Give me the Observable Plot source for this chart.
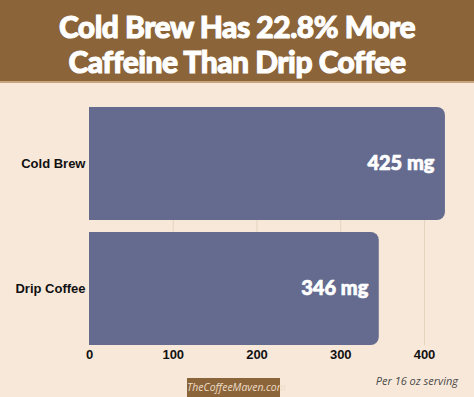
<!DOCTYPE html>
<html>
<head>
<meta charset="utf-8">
<script src="https://cdn.jsdelivr.net/npm/d3@7"></script>
<script src="https://cdn.jsdelivr.net/npm/@observablehq/plot@0.6"></script>
<style>
  html, body { margin: 0; padding: 0; background: #f8e8d9; }
  #wrap { position: relative; width: 474px; height: 397px; background: #f8e8d9; overflow: hidden; }
  #title { position: absolute; left: 0; top: 0; width: 474px; height: 83px; background: #8b6439;
           border-bottom: 2px solid #c9a47c; color: #fff; font-family: Lato, sans-serif; font-weight: 900;
           font-size: 30px; line-height: 35px; text-align: center; letter-spacing: -0.5px; box-sizing: border-box;
           padding-top: 9px; -webkit-text-stroke: 1px #fff; }
  #chart { position: absolute; left: 0; top: 86px; }
  #note { position: absolute; right: 16px; top: 373px; font-family: "Open Sans", sans-serif; font-style: italic;
          font-size: 11px; color: #4a4a4a; }
  #brand { position: absolute; left: 187px; top: 378px; width: 93px; height: 19px; background: #8b6439;
           color: #ecdcc8; font-family: "Open Sans", sans-serif; font-style: italic; font-size: 10.5px;
           line-height: 19px; text-align: center; }
</style>
</head>
<body>
<div id="wrap">
  <div id="title">Cold Brew Has 22.8% More<br>Caffeine Than Drip Coffee</div>
  <div id="chart"></div>
  <div id="note">Per 16 oz serving</div>
  <div id="brand">TheCoffeeMaven.com</div>
</div>
<script>
const categories = ["Cold Brew", "Drip Coffee"];
const caffeineMg = [425, 346];
const xTicks = [0, 100, 200, 300, 400];
const valueLabels = ["425 mg", "346 mg"];

const data = categories.map((c, i) => ({category: c, value: caffeineMg[i], label: valueLabels[i]}));
const barColor = "#646b8f";

const chart = Plot.plot({
  width: 474,
  height: 290,
  marginLeft: 89,
  marginRight: 16.5,
  marginTop: 21,
  marginBottom: 31,
  style: {background: "transparent", color: "#111", fontFamily: "'Liberation Sans', Arial, sans-serif"},
  x: {domain: [0, 440], ticks: xTicks, label: null, tickSize: 0, tickPadding: 4},
  y: {domain: categories, label: null, tickSize: 0, tickPadding: 4, paddingInner: 0.1, paddingOuter: 0},
  marks: [
    Plot.ruleX(xTicks.filter(t => t > 0), {stroke: "#e6d3bf", strokeWidth: 1}),
    Plot.barX(data, {y: "category", x: "value", fill: barColor, rx: 8}),
    Plot.barX(data, {y: "category", x1: 0, x2: d => d.value - 12, fill: barColor}),
    Plot.text(data, {y: "category", x: "value", text: "label", textAnchor: "end", dx: -11,
      fill: "white", stroke: "white", strokeWidth: 0.7, fontSize: 20, fontWeight: 900, fontFamily: "Lato, sans-serif"}),
    Plot.axisX({ticks: xTicks, tickSize: 0, tickPadding: 4, fontSize: 13, fontWeight: "bold", label: null}),
    Plot.axisY({tickSize: 0, tickPadding: 4, fontSize: 13, fontWeight: "bold", label: null})
  ]
});
document.getElementById("chart").appendChild(chart);
</script>
</body>
</html>
